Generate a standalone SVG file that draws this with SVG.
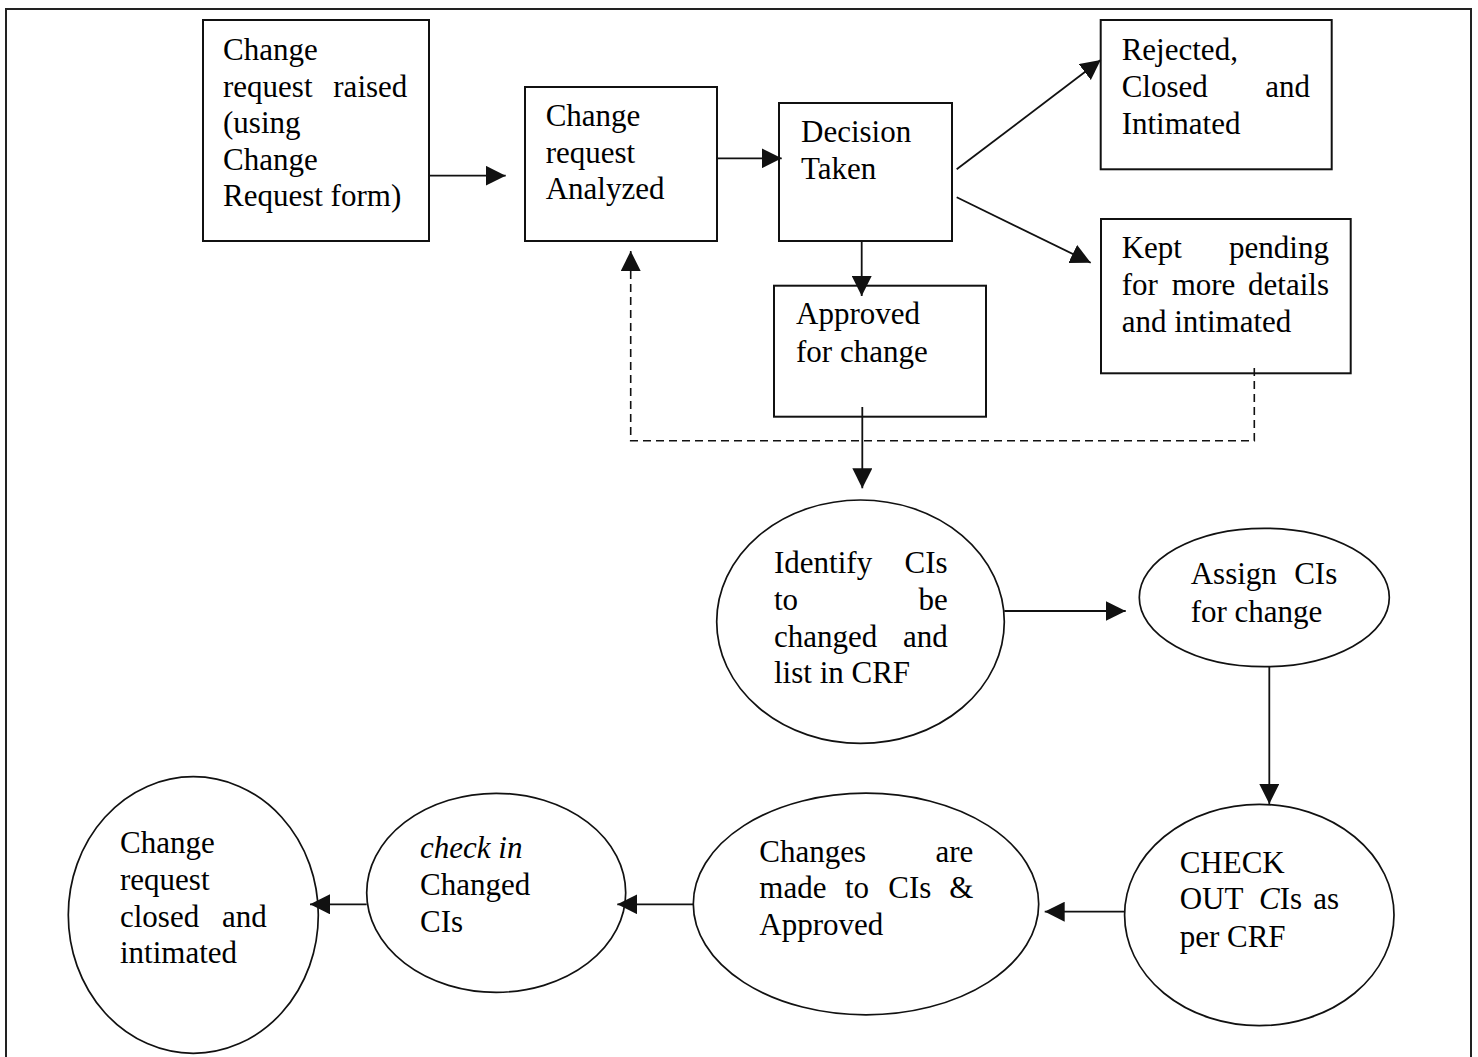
<svg xmlns="http://www.w3.org/2000/svg" width="1478" height="1057" viewBox="0 0 1478 1057">
<style>
.bx{fill:#fff;stroke:#111;stroke-width:2}
.el{fill:#fff;stroke:#111;stroke-width:1.7}
.t{font-family:"Liberation Serif","Times New Roman",serif;font-size:31px;fill:#000}
.c{fill:none;stroke:#111;stroke-width:1.8}
.d{fill:none;stroke:#111;stroke-width:1.6;stroke-dasharray:8 5}
</style>
<defs>
<marker id="ah" markerUnits="userSpaceOnUse" markerWidth="20" markerHeight="20" refX="20" refY="10" orient="auto" viewBox="0 0 20 20">
<path d="M0,0 L20,10 L0,20 z" fill="#111" stroke="none"/>
</marker>
</defs>
<rect width="1478" height="1057" fill="#fff"/>
<path d="M6,1057 V9 H1471 V1057" fill="none" stroke="#222" stroke-width="2"/>

<g id="n-raised">
<rect class="bx" x="203" y="20" width="226" height="221"/>
<text class="t"><tspan x="223" y="60">Change</tspan><tspan x="223" y="96.6">request</tspan><tspan x="333.3" y="96.6">raised</tspan><tspan x="223" y="133.2">(using</tspan><tspan x="223" y="169.8">Change</tspan><tspan x="223" y="206.4">Request form)</tspan></text>
</g>

<g id="n-analyzed">
<rect class="bx" x="525" y="87" width="192" height="154"/>
<text class="t"><tspan x="545.7" y="126">Change</tspan><tspan x="545.7" y="162.5">request</tspan><tspan x="545.7" y="199">Analyzed</tspan></text>
</g>

<g id="n-decision">
<rect class="bx" x="779" y="103" width="173" height="138"/>
<text class="t"><tspan x="801" y="141.7">Decision</tspan><tspan x="801" y="179.3">Taken</tspan></text>
</g>

<g id="n-approved">
<rect class="bx" x="774" y="285.7" width="212" height="131"/>
<text class="t"><tspan x="796" y="324.3">Approved</tspan><tspan x="796" y="361.7">for change</tspan></text>
</g>

<g id="n-rejected">
<rect class="bx" x="1100.7" y="20" width="231" height="149.3"/>
<text class="t"><tspan x="1121.7" y="60">Rejected,</tspan><tspan x="1121.7" y="96.7">Closed</tspan><tspan x="1265.2" y="96.7">and</tspan><tspan x="1121.7" y="134">Intimated</tspan></text>
</g>

<g id="n-pending">
<rect class="bx" x="1101" y="219" width="249.7" height="154.3"/>
<text class="t"><tspan x="1121.7" y="258.3">Kept</tspan><tspan x="1229.1" y="258.3">pending</tspan><tspan x="1121.7" y="295">for</tspan><tspan x="1171.7" y="295">more</tspan><tspan x="1248.1" y="295">details</tspan><tspan x="1121.7" y="332.3">and intimated</tspan></text>
</g>

<g id="n-identify">
<ellipse class="el" cx="860.5" cy="621.7" rx="143.8" ry="121.7"/>
<text class="t"><tspan x="774" y="573.3">Identify</tspan><tspan x="904.6" y="573.3">CIs</tspan><tspan x="774" y="610">to</tspan><tspan x="918.4" y="610">be</tspan><tspan x="774" y="646.7">changed</tspan><tspan x="902.9" y="646.7">and</tspan><tspan x="774" y="683.3">list in CRF</tspan></text>
</g>

<g id="n-assign">
<ellipse class="el" cx="1264.3" cy="597.5" rx="125" ry="69.2"/>
<text class="t"><tspan x="1190.7" y="584.3">Assign</tspan><tspan x="1294.2" y="584.3">CIs</tspan><tspan x="1190.7" y="621.7">for change</tspan></text>
</g>

<g id="n-checkout">
<ellipse class="el" cx="1259.3" cy="915" rx="134.7" ry="110.7"/>
<text class="t"><tspan x="1179.7" y="873.3">CHECK</tspan><tspan x="1179.7" y="909.3">OUT</tspan><tspan x="1259" y="909.3"><tspan font-style="italic">C</tspan>Is</tspan><tspan x="1313.2" y="909.3">as</tspan><tspan x="1179.7" y="947">per CRF</tspan></text>
</g>

<g id="n-changes">
<ellipse class="el" cx="866" cy="904" rx="172.7" ry="110.8"/>
<text class="t"><tspan x="759.3" y="861.7">Changes</tspan><tspan x="935.4" y="861.7">are</tspan><tspan x="759.3" y="898.3">made</tspan><tspan x="845" y="898.3">to</tspan><tspan x="888.3" y="898.3">CIs</tspan><tspan x="949.2" y="898.3">&amp;</tspan><tspan x="759.3" y="935">Approved</tspan></text>
</g>

<g id="n-checkin">
<ellipse class="el" cx="496.2" cy="892.8" rx="129.5" ry="99.5"/>
<text class="t"><tspan x="420" y="858.3" font-style="italic">check in</tspan><tspan x="420" y="895">Changed</tspan><tspan x="420" y="931.7">CIs</tspan></text>
</g>

<g id="n-closed">
<ellipse class="el" cx="193.3" cy="915" rx="125" ry="138.3"/>
<text class="t"><tspan x="120" y="853.3">Change</tspan><tspan x="120" y="890">request</tspan><tspan x="120" y="926.7">closed</tspan><tspan x="221.9" y="926.7">and</tspan><tspan x="120" y="963.3">intimated</tspan></text>
</g>

<g id="connectors">
<path class="c" d="M429,175.7 H505.7" marker-end="url(#ah)"/>
<path class="c" d="M717,158.3 H781.7" marker-end="url(#ah)"/>
<path class="c" d="M861.7,241 V296" marker-end="url(#ah)"/>
<path class="c" d="M956.7,169.3 L1100.7,60" marker-end="url(#ah)"/>
<path class="c" d="M956.7,197.3 L1090.7,262.7" marker-end="url(#ah)"/>
<path class="c" d="M862.3,407 V488.3" marker-end="url(#ah)"/>
<path class="d" d="M1254.3,368 V440.7 H630.7 V251" marker-end="url(#ah)"/>
<path class="c" d="M1004.3,611 H1125.7" marker-end="url(#ah)"/>
<path class="c" d="M1269.3,666.7 V804" marker-end="url(#ah)"/>
<path class="c" d="M1124.7,911.7 H1044.7" marker-end="url(#ah)"/>
<path class="c" d="M693.3,904.3 H617.3" marker-end="url(#ah)"/>
<path class="c" d="M366.7,904.3 H310" marker-end="url(#ah)"/>
</g>
</svg>
